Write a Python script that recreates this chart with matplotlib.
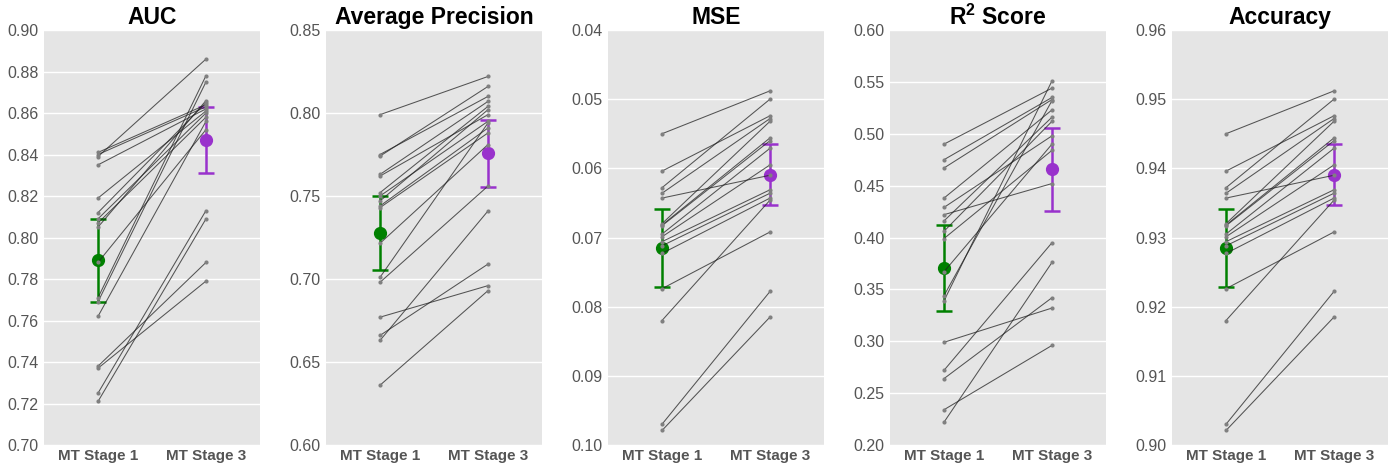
import numpy as np
import matplotlib.pyplot as plt

plt.rcParams['font.family'] = ['Liberation Sans', 'DejaVu Sans']
plt.rcParams['mathtext.default'] = 'regular'

stage_labels = ["MT Stage 1", "MT Stage 3"]
titles = ["AUC", "Average Precision", "MSE", r"R$^2$ Score", "Accuracy"]

# per-subject scores, stage 1 -> stage 3 (same order in both lists)
auc_s1 = [0.841, 0.840, 0.839, 0.835, 0.819, 0.812, 0.809, 0.807, 0.805,
          0.788, 0.771, 0.769, 0.762, 0.738, 0.737, 0.725, 0.721]
auc_s3 = [0.864, 0.863, 0.886, 0.862, 0.861, 0.865, 0.860, 0.858, 0.866,
          0.852, 0.878, 0.875, 0.856, 0.788, 0.779, 0.813, 0.809]

ap_s1 = [0.799, 0.775, 0.774, 0.763, 0.762, 0.752, 0.750, 0.747, 0.744,
         0.743, 0.7215, 0.701, 0.698, 0.677, 0.666, 0.663, 0.636]
ap_s3 = [0.822, 0.810, 0.816, 0.807, 0.799, 0.804, 0.795, 0.802, 0.791,
         0.788, 0.781, 0.794, 0.756, 0.696, 0.709, 0.741, 0.693]

mse_s1 = [0.0550, 0.0604, 0.0628, 0.0636, 0.0643, 0.0680, 0.0682, 0.0683, 0.0695,
          0.0699, 0.0706, 0.0712, 0.0723, 0.0774, 0.0820, 0.0970, 0.0979]
mse_s3 = [0.0488, 0.0524, 0.0500, 0.0528, 0.0610, 0.0532, 0.0556, 0.0560, 0.0571,
          0.0595, 0.0631, 0.0636, 0.0643, 0.0692, 0.0646, 0.0778, 0.0815]

r2_s1 = [0.490, 0.475, 0.467, 0.438, 0.429, 0.422, 0.416, 0.406, 0.399,
         0.367, 0.344, 0.339, 0.299, 0.272, 0.264, 0.234, 0.222]
r2_s3 = [0.544, 0.535, 0.533, 0.523, 0.498, 0.452, 0.516, 0.512, 0.484,
         0.490, 0.532, 0.551, 0.332, 0.395, 0.342, 0.296, 0.376]

acc_s1 = [0.9450, 0.9396, 0.9372, 0.9364, 0.9357, 0.9320, 0.9318, 0.9317, 0.9305,
          0.9301, 0.9294, 0.9288, 0.9277, 0.9226, 0.9180, 0.9030, 0.9021]
acc_s3 = [0.9512, 0.9476, 0.9500, 0.9472, 0.9390, 0.9468, 0.9444, 0.9440, 0.9429,
          0.9405, 0.9369, 0.9364, 0.9357, 0.9308, 0.9354, 0.9222, 0.9185]

# group mean and 95% CI half width (stage 1, stage 3)
auc_mean, auc_ci = [0.789, 0.847], [0.020, 0.016]
ap_mean, ap_ci = [0.7277, 0.7757], [0.0225, 0.020]
mse_mean, mse_ci = [0.0715, 0.0609], [0.0056, 0.0044]
r2_mean, r2_ci = [0.371, 0.4657], [0.0415, 0.040]
acc_mean, acc_ci = [0.9285, 0.9391], [0.0056, 0.0044]

ylims = [(0.70, 0.90), (0.60, 0.85), (0.10, 0.04), (0.20, 0.60), (0.90, 0.96)]
ysteps = [0.02, 0.05, 0.01, 0.05, 0.01]

panels = [(auc_s1, auc_s3, auc_mean, auc_ci),
          (ap_s1, ap_s3, ap_mean, ap_ci),
          (mse_s1, mse_s3, mse_mean, mse_ci),
          (r2_s1, r2_s3, r2_mean, r2_ci),
          (acc_s1, acc_s3, acc_mean, acc_ci)]

W, H = 1392, 465
fig = plt.figure(figsize=(W / 100, H / 100), dpi=100)

for i, (s1, s3, mean, ci) in enumerate(panels):
    left = 44 + i * 282
    ax = fig.add_axes([left / W, 20 / H, 216 / W, 415 / H])
    ax.set_facecolor('#e5e5e5')
    for sp in ax.spines.values():
        sp.set_visible(False)

    for a, b in zip(s1, s3):
        ax.plot([0, 1], [a, b], color='#222222', lw=0.75, alpha=0.75, zorder=3)
        ax.plot([0, 1], [a, b], 'o', color='grey', ms=3.0, mec='none', zorder=4)

    ax.errorbar(0, mean[0], yerr=ci[0], fmt='o', color='green', ms=8.5,
                elinewidth=1.8, capsize=5.5, capthick=1.8, zorder=2)
    ax.errorbar(1, mean[1], yerr=ci[1], fmt='o', color='#9932cc', ms=8.5,
                elinewidth=1.8, capsize=5.5, capthick=1.8, zorder=2)

    lo, hi = ylims[i]
    ax.set_ylim(lo, hi)
    ticks = np.arange(min(lo, hi), max(lo, hi) + 1e-9, ysteps[i])
    ax.set_yticks(ticks)
    ax.set_yticklabels(["%.2f" % t for t in ticks])
    ax.set_xlim(-0.5, 1.5)
    ax.set_xticks([0, 1])
    ax.set_xticklabels(stage_labels, fontweight='bold')
    ax.grid(axis='y', color='white', lw=1.0)
    ax.set_axisbelow(True)
    ax.tick_params(length=0, labelsize=11.5, colors='#555555', pad=4)
    ax.tick_params(axis='x', labelsize=11, pad=3)
    ax.set_title(titles[i], fontsize=16.5, fontweight='bold', pad=4)

fig.savefig('out.png', dpi=100)
